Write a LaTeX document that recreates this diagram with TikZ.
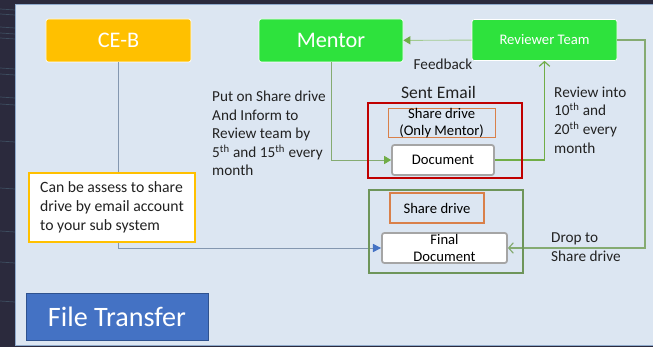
\documentclass[tikz,border=0pt]{standalone}
\usepackage{fontspec}
\setmainfont{Carlito}
\usepackage{tikz}
\usetikzlibrary{positioning}
\usetikzlibrary{arrows.meta}
\definecolor{darkbg}{HTML}{2B2A3D}
\definecolor{streak}{HTML}{5F8FA0}
\definecolor{panelbg}{HTML}{DCE6F2}
\definecolor{panelline}{HTML}{8FAACC}
\definecolor{ceborange}{HTML}{FFC000}
\definecolor{boxgreen}{HTML}{2EE23D}
\definecolor{arrgreen}{HTML}{70AD47}
\definecolor{palegreen}{HTML}{A2CB91}
\definecolor{routegreen}{HTML}{85AB72}
\definecolor{framegreen}{HTML}{6E955A}
\definecolor{framered}{HTML}{C00000}
\definecolor{driveorange}{HTML}{D9804A}
\definecolor{docgray}{HTML}{A5A5A5}
\definecolor{linkblue}{HTML}{8497B0}
\definecolor{headblue}{HTML}{4472C4}
\definecolor{titleline}{HTML}{2F528F}
\definecolor{textgray}{HTML}{222222}

\newcommand{\fs}[2]{\fontsize{#1}{#2}\selectfont}

\begin{document}
\begin{tikzpicture}
[
x=0.03cm, y=-0.03cm,
topbox/.style={rectangle, rounded corners=2pt, draw=white, line width=0.6pt, text=white, minimum width=4.35cm, minimum height=1.29cm},
drive/.style={rectangle, draw=driveorange, line width=0.9pt, align=center, inner sep=0pt, font=\fs{12.5}{14.5}},
docbox/.style={rectangle, rounded corners=2pt, draw=docgray, line width=1.5pt, fill=white, align=center, inner sep=0pt, minimum height=0.9cm, font=\fs{12.5}{14.5}},
groupbox/.style={rectangle, line width=1pt, minimum width=4.62cm},
text-a/.style={text=textgray, align=left, inner sep=0pt, font=\fs{13}{15.8}},
fbline/.style={palegreen, line width=0.8pt, -{Triangle[length=6pt, width=7pt, color=arrgreen]}},
mentorline/.style={routegreen, line width=0.7pt, -{Triangle[length=6pt, width=7pt, color=arrgreen]}},
openline/.style={line width=1.3pt, -{Straight Barb[length=4pt, width=9pt, line width=1pt]}},
cebline/.style={linkblue, line width=0.8pt, -{Triangle[length=7pt, width=7pt, color=headblue]}},
]
\useasboundingbox (0,0) rectangle (653,347);

% backdrop and slide panel
\fill [darkbg] (0,0) rectangle (653,347);
\foreach \sy in {9,14,27,33,38,68,74,97,104,141,188,231,262,301}
  \draw [streak, opacity=0.35, line width=0.6pt] (0,\sy) -- (15,\sy+1);
\filldraw [fill=panelbg, draw=panelline, line width=0.8pt] (15,4) rectangle (660,345);

% top row
\node (ceb)      [topbox, fill=ceborange, font=\fs{19}{23}] at (118.5,40.5) {CE-B};
\node (mentor)   [topbox, fill=boxgreen, minimum width=4.32cm, font=\fs{19}{23}] at (331,40.5) {Mentor};
\node (reviewer) [topbox, fill=boxgreen, minimum height=1.23cm, font=\fs{12.5}{15}] at (544.5,40) {Reviewer Team};

% drives and documents
\node (doc)      [docbox, minimum width=3.06cm] at (443,160) {Document};
\node (onlym)    [drive, minimum width=3.21cm, minimum height=0.87cm, above left = 0.18cm and -3.135cm of doc] {Share drive\\(Only Mentor)};
\node (final)    [docbox, minimum width=3.75cm] at (444.5,248) {Final\\Document};
\node (shared)   [drive, minimum width=2.82cm, minimum height=0.9cm] at (437,208) {Share drive};

% labels
\node (putlbl)   [text-a, anchor=west] at (212,133.5) {Put on Share drive\\And Inform to\\Review team by\\5\textsuperscript{th} and 15\textsuperscript{th} every\\month};
\node (fblbl)    [text-a] at (443,64) {Feedback};
\node (sentlbl)  [text-a, font=\fs{15}{18}] at (438.5,92) {Sent Email};
\node (revlbl)   [text-a, anchor=west, font=\fs{13}{16}] at (554,120) {Review into\\10\textsuperscript{th} and\\20\textsuperscript{th} every\\month};
\node (droplbl)  [text-a, anchor=west, font=\fs{13}{16.2}] at (551,247.5) {Drop to\\Share drive};
\node (title)    [rectangle, fill=headblue, draw=titleline, line width=0.8pt, text=white, minimum width=5.46cm, minimum height=1.41cm, font=\fs{24}{28}] at (117,316.5) {File Transfer};

% links
\coordinate (dropturn) at (645,248);
\draw [fbline]     (reviewer) -- (mentor);
\draw [mentorline] (mentor) |- (doc);
\draw [openline, arrgreen]   (doc) -| (reviewer);
\draw [openline, routegreen, line width=1pt] (reviewer) -| (dropturn) -- (final);
\draw [cebline]    (ceb) |- (final);

\node (canbe)    [rectangle, draw=ceborange, fill=white, line width=1pt, minimum width=4.98cm, minimum height=2.07cm, align=left, text=textgray, font=\fs{13.4}{16.2}] at (112,207.5) {Can be assess to share\\drive by email account\\to your sub system};

% grouping frames
\node (sentbox)  [groupbox, draw=framered, minimum height=2.25cm] at (445,140.5) {};
\node (keptbox)  [groupbox, draw=framegreen, line width=1.2pt, minimum height=2.49cm] at (446,231.5) {};
\end{tikzpicture}
\end{document}
